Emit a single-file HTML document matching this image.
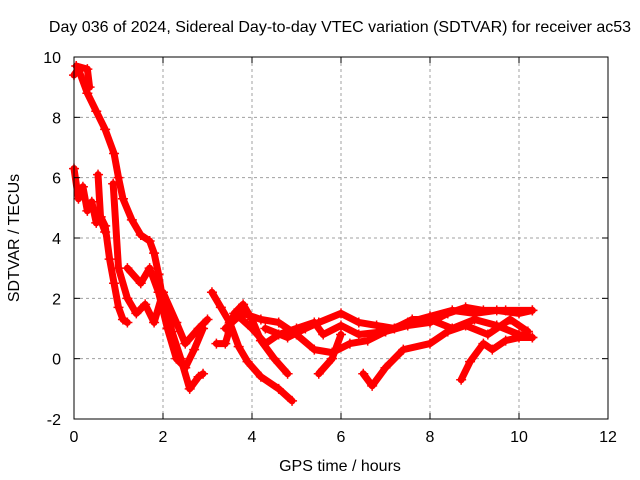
<!DOCTYPE html>
<html><head><meta charset="utf-8"><style>
body{margin:0;background:#fff}
svg{display:block;font-family:"Liberation Sans",sans-serif}
</style></head><body>
<svg width="640" height="480" id="chart">
<rect width="640" height="480" fill="#fff"/>
<text x="340" y="32" text-anchor="middle" font-size="16">Day 036 of 2024, Sidereal Day-to-day VTEC variation (SDTVAR) for receiver ac53</text>
<text x="340" y="471" text-anchor="middle" font-size="16">GPS time / hours</text>
<text x="19" y="238" text-anchor="middle" font-size="16" transform="rotate(-90 19 238)">SDTVAR / TECUs</text>
<g id="grid"></g>
<g id="series"></g>
<rect x="74" y="57" width="534" height="362" fill="none" stroke="#000" stroke-width="1"/>
<g id="axes"></g>
</svg>
<script>
const xTicks=[0,2,4,6,8,10,12];
const yTicks=[-2,0,2,4,6,8,10];
const tracks=[
[[0.05,9.7],[0.3,9.6],[0.35,9.0]],
[[0,9.4],[0.1,9.6],[0.3,8.8],[0.5,8.2],[0.7,7.6],[0.9,6.8],[1.0,6.0],[1.1,5.3],[1.3,4.6],[1.5,4.1],[1.7,3.9],[1.8,3.5],[1.9,2.8],[2.0,1.9],[2.1,1.6],[2.2,0.9],[2.4,0.0],[2.6,-1.0],[2.8,-0.6],[2.9,-0.5]],
[[0,6.3],[0.1,5.3],[0.2,5.7],[0.3,4.9],[0.4,5.2],[0.5,4.5],[0.6,4.7],[0.7,4.4],[0.8,3.3],[0.9,2.5],[1.0,1.7],[1.1,1.3],[1.2,1.2]],
[[0.54,6.1],[0.6,4.6],[0.7,4.2]],
[[0.88,5.8],[1.0,3.0],[1.2,2.0],[1.4,1.5],[1.6,1.8],[1.8,1.2],[2.0,2.2],[2.3,1.2],[2.5,0.5],[2.8,1.0],[3.0,1.3]],
[[1.2,3.0],[1.5,2.5],[1.7,3.0],[1.9,2.2],[2.1,1.0],[2.3,0.0],[2.5,-0.3],[2.7,0.3],[2.9,1.0]],
[[3.1,2.2],[3.3,1.7],[3.5,1.2],[3.7,0.4],[3.9,-0.1],[4.2,-0.6],[4.6,-1.0],[4.9,-1.4]],
[[3.2,0.5],[3.4,0.5],[3.6,1.5],[3.8,1.8],[4.0,1.3],[4.2,0.6],[4.5,0.0],[4.8,-0.5]],
[[3.4,1.0],[3.7,1.4],[4.0,1.0],[4.3,0.5],[4.6,0.8],[5.0,1.0],[5.4,1.2],[5.6,0.8],[6.0,1.1],[6.4,0.8],[7,0.9],[7.5,1.2],[8,1.4],[8.5,1.6],[9,1.5],[9.5,1.6],[10,1.5],[10.3,1.6]],
[[3.8,1.5],[4.2,1.3],[4.6,1.2],[5.0,0.8],[5.4,0.3],[5.8,0.2],[6.2,0.5],[6.6,0.6],[7,0.9],[7.5,1.1],[8,1.2],[8.4,1.5],[8.8,1.7],[9.2,1.6],[9.7,1.6],[10.3,1.6]],
[[4.3,1.0],[4.8,0.7],[5.2,1.0],[5.5,1.2],[6.0,1.5],[6.4,1.2],[6.8,1.1],[7.2,1.0],[7.6,1.3],[8.0,1.3],[8.5,1.0],[9.0,1.3],[9.5,1.1],[10,0.8],[10.3,0.7]],
[[5.5,-0.5],[5.8,0.0],[6.0,0.8]],
[[6.5,-0.5],[6.7,-0.9],[7.0,-0.3],[7.4,0.3],[8,0.5],[8.4,0.9],[8.8,1.1],[9.3,0.8],[9.8,1.3],[10.2,0.9]],
[[8.7,-0.7],[8.9,-0.1],[9.2,0.5],[9.4,0.3],[9.7,0.6],[10,0.7],[10.3,0.7]]
];
const NS="http://www.w3.org/2000/svg";
const X0=74,X1=608,Y0=419,Y1=57;
const xs=v=>X0+(v-0)/(12-0)*(X1-X0);
const ys=v=>Y0-(v+2)/(12)*(Y0-Y1);
const grid=document.getElementById('grid'),axes=document.getElementById('axes'),ser=document.getElementById('series');
function mk(tag,attrs,parent){const e=document.createElementNS(NS,tag);for(const k in attrs)e.setAttribute(k,attrs[k]);parent.appendChild(e);return e;}
xTicks.forEach(t=>{const x=xs(t);
 if(t>0&&t<12){const g=mk('line',{x1:x,x2:x,y1:Y1,y2:Y0,stroke:'#a0a0a0','stroke-dasharray':'3,3'},grid);
 
 }
 mk('line',{x1:x,x2:x,y1:Y0,y2:Y0-6,stroke:'#000'},axes);
 mk('line',{x1:x,x2:x,y1:Y1,y2:Y1+6,stroke:'#000'},axes);
 const l=mk('text',{x:x,y:Y0+23,'text-anchor':'middle','font-size':'16'},axes);l.textContent=t;
 
 
});
yTicks.forEach(t=>{const y=ys(t);
 if(t>-2&&t<10){const g=mk('line',{x1:X0,x2:X1,y1:y,y2:y,stroke:'#a0a0a0','stroke-dasharray':'3,3'},grid);
 
 }
 mk('line',{x1:X0,x2:X0+6,y1:y,y2:y,stroke:'#000'},axes);
 mk('line',{x1:X1,x2:X1-6,y1:y,y2:y,stroke:'#000'},axes);
 const l=mk('text',{x:X0-13,y:y+6,'text-anchor':'end','font-size':'16'},axes);l.textContent=t;
 
 
});
tracks.forEach(tr=>{
 const p=mk('polyline',{points:tr.map(d=>xs(d[0])+','+ys(d[1])).join(' '),fill:'none',stroke:'#f00','stroke-width':7,'stroke-linejoin':'round','stroke-linecap':'round'},ser);
 
 
 tr.forEach(d=>{const x=xs(d[0]),y=ys(d[1]);
  const m=mk('path',{d:`M${x-5},${y}h10M${x},${y-5}v10`,stroke:'#f00','stroke-width':1.5},ser);
  
  
 });
});
</script>
</body></html>
